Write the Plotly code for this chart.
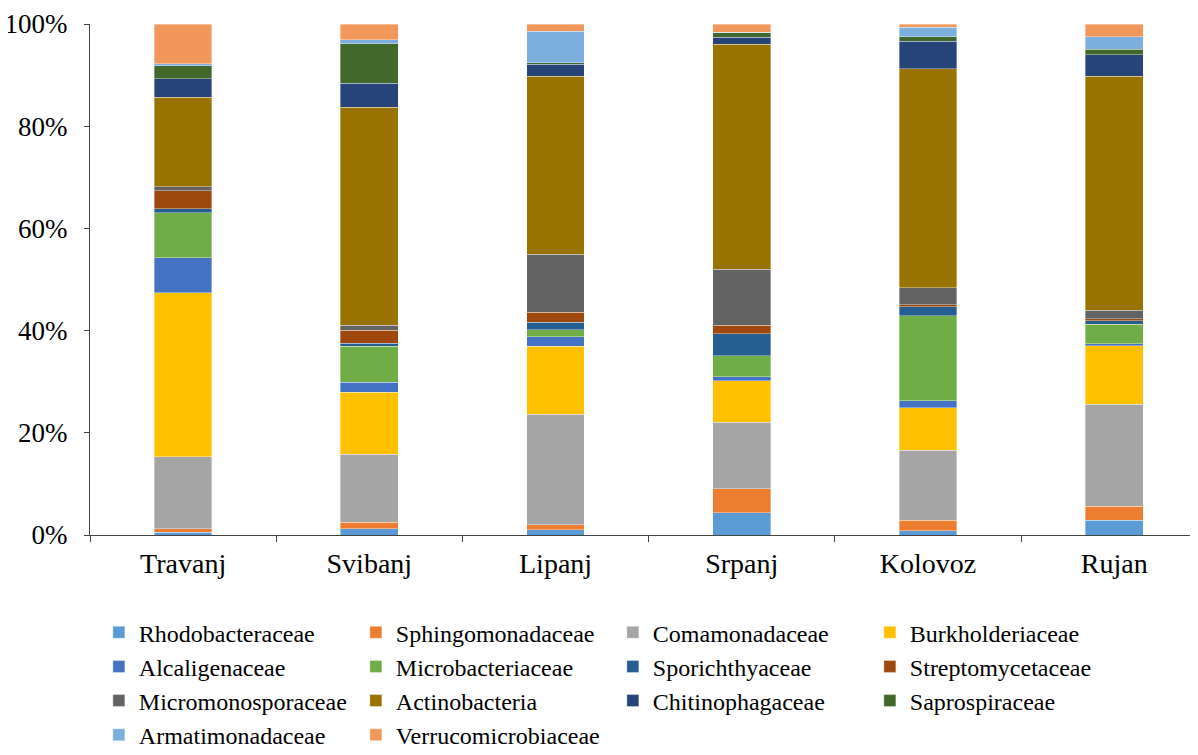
import plotly.graph_objects as go

months = ["Travanj", "Svibanj", "Lipanj", "Srpanj", "Kolovoz", "Rujan"]

# udio porodica po mjesecima (%)
rhodobacteraceae = [0.5, 1.2, 1.0, 4.4, 0.8, 2.9]
sphingomonadaceae = [0.7, 1.3, 1.0, 4.7, 2.1, 2.7]
comamonadaceae = [14.1, 13.3, 21.6, 13.0, 13.7, 20.0]
burkholderiaceae = [32.1, 12.1, 13.3, 8.1, 8.3, 11.4]
alcaligenaceae = [6.9, 2.0, 1.9, 0.8, 1.4, 0.4]
microbacteriaceae = [8.8, 7.0, 1.4, 4.1, 16.6, 3.8]
sporichthyaceae = [0.7, 0.6, 1.4, 4.3, 1.8, 0.7]
streptomycetaceae = [3.6, 2.6, 2.0, 1.6, 0.4, 0.4]
micromonosporaceae = [0.8, 0.9, 11.3, 11.0, 3.3, 1.7]
actinobacteria = [17.5, 42.7, 34.9, 44.0, 42.8, 45.8]
chitinophagaceae = [3.6, 4.7, 2.3, 1.4, 5.4, 4.2]
saprospiraceae = [2.5, 7.7, 0.3, 0.9, 0.9, 1.1]
armatimonadaceae = [0.4, 0.8, 6.2, 0.1, 1.9, 2.4]
verrucomicrobiaceae = [7.8, 3.1, 1.4, 1.6, 0.6, 2.5]

series = [
    ("Rhodobacteraceae", rhodobacteraceae, "#5B9BD5"),
    ("Sphingomonadaceae", sphingomonadaceae, "#ED7D31"),
    ("Comamonadaceae", comamonadaceae, "#A5A5A5"),
    ("Burkholderiaceae", burkholderiaceae, "#FFC000"),
    ("Alcaligenaceae", alcaligenaceae, "#4472C4"),
    ("Microbacteriaceae", microbacteriaceae, "#70AD47"),
    ("Sporichthyaceae", sporichthyaceae, "#255E91"),
    ("Streptomycetaceae", streptomycetaceae, "#9E480E"),
    ("Micromonosporaceae", micromonosporaceae, "#636363"),
    ("Actinobacteria", actinobacteria, "#997300"),
    ("Chitinophagaceae", chitinophagaceae, "#264478"),
    ("Saprospiraceae", saprospiraceae, "#43682B"),
    ("Armatimonadaceae", armatimonadaceae, "#7CAFDD"),
    ("Verrucomicrobiaceae", verrucomicrobiaceae, "#F1975A"),
]

font = "Liberation Serif, Times New Roman, serif"

fig = go.Figure()
for name, vals, color in series:
    fig.add_trace(go.Bar(
        x=months, y=vals, name=name,
        marker=dict(color=color, line=dict(color="rgba(255,255,255,0.6)", width=0.6)),
    ))

# the page body adds an 8 px margin, so the figure is 8 px smaller than the window
fig.update_layout(
    barmode="stack",
    bargap=0.69,
    width=1190, height=747,
    margin=dict(l=82, r=0, t=16, b=220, autoexpand=False),
    plot_bgcolor="white", paper_bgcolor="white",
    font=dict(family=font, size=28, color="black"),
    legend=dict(
        orientation="h", x=0.008, y=-0.147, xanchor="left", yanchor="top",
        font=dict(size=24), entrywidth=212, entrywidthmode="pixels",
        traceorder="normal", itemwidth=30,
    ),
    showlegend=True,
)
fig.update_xaxes(
    range=[-0.5, 5.45], showline=True, linecolor="#444", linewidth=1,
    ticks="outside", tickson="boundaries", ticklen=6, tickcolor="#444",
    showgrid=False, tickfont=dict(size=28), ticklabelstandoff=3,
)
fig.update_yaxes(
    range=[0, 100], dtick=20, ticksuffix="%", showline=True, linecolor="#444",
    linewidth=1, ticks="outside", ticklen=5, tickcolor="#444",
    showgrid=False, tickfont=dict(size=27), zeroline=False, ticklabelstandoff=11,
)

fig.write_html("out.html")
